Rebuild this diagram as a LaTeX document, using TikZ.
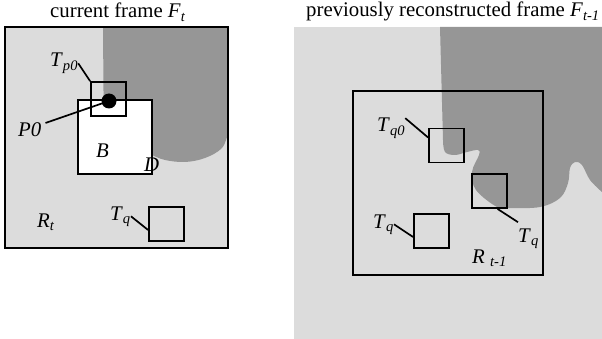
\documentclass[tikz,border=0pt]{standalone}
\usepackage{fontspec}
\setmainfont{Liberation Serif}
\definecolor{lightbg}{gray}{0.863}
\definecolor{darkbg}{gray}{0.59}
\begin{document}
\begin{tikzpicture}[x=1pt,y=-1pt,
  box/.style={draw=black, line width=1.8pt, inner sep=0pt,
              minimum width=35pt, minimum height=34pt},
  lbl/.style={inner sep=0pt, anchor=base west, font=\fontsize{20.8}{24}\selectfont},
  wire/.style={line width=1.7pt}]
\useasboundingbox (0,0) rectangle (602,339);

% ---- current frame ----
\node[lbl] (titleA) at (50,18) {current frame \textit{F}\textsubscript{\textit{t}}};
\fill[lightbg] (5,27) rectangle (228,248);
\fill[darkbg] (103,27) -- (228,27) -- (228,133)
  -- plot[smooth, tension=0.6] coordinates {(228,133) (222,148) (205,158) (185,162) (165,160) (152,155)}
  -- (104,155) -- cycle;
\node[draw, line width=1.8pt, inner sep=0pt, minimum width=223pt, minimum height=221pt] (Rt) at (116.5,137.5) {};
\node[box, fill=white, minimum width=74pt, minimum height=74pt] (B) at (115,137) {};
\node[box] (Tp0) at (108.5,99) {};
\node[circle, fill=black, inner sep=0pt, minimum size=15pt] (P0) at (109,101) {};
\node[box] (TqA) at (166.5,224) {};

\node[lbl] (Tp0lab) at (50,67) {\textit{T}\textsubscript{\textit{p0}}};
\node[lbl] (P0lab) at (18,137) {\textit{P0}};
\node[lbl] (Blab) at (96,158) {\textit{B}};
\node[lbl] (Dlab) at (144,172) {\textit{D}};
\node[lbl] (Rtlab) at (37,227) {\textit{R}\textsubscript{\textit{t}}};
\node[lbl] (TqAlab) at (110,220) {\textit{T}\textsubscript{\textit{q}}};

\draw[wire] (Tp0lab.east) -- (Tp0.north west);
\draw[wire] ([xshift=4pt]P0lab.north east) -- (P0.center);
\draw[wire] (TqAlab.east) -- ([yshift=-6pt]TqA.west);

% ---- previously reconstructed frame ----
\node[lbl] (titleB) at (306,17) {previously reconstructed frame \textit{F}\textsubscript{\textit{t-1}}};
\fill[lightbg] (294,27) rectangle (602,339);
\fill[darkbg] (440,27) -- (602,27) -- (602,192)
  -- plot[smooth, tension=0.6] coordinates {(602,192) (590,180) (582,165) (575,162) (570,168) (568,183)
     (560,198) (540,207) (510,208) (497,207) (476,190) (472,172) (479,155) (478,150) (467,152)
     (455,155) (445,152) (443,140)}
  -- cycle;
\node[draw, line width=1.8pt, inner sep=0pt, minimum width=190pt, minimum height=184pt] (Rt1) at (448,183) {};
\node[box] (Tq0) at (446.5,145.5) {};
\node[box] (TqR) at (489.5,191) {};
\node[box] (TqL) at (431.5,231) {};

\node[lbl] (Tq0lab) at (377,132) {\textit{T}\textsubscript{\textit{q0}}};
\node[lbl] (TqLlab) at (373,228) {\textit{T}\textsubscript{\textit{q}}};
\node[lbl] (TqRlab) at (518,242) {\textit{T}\textsubscript{\textit{q}}};
\node[lbl] (Rt1lab) at (472,263) {\textit{R} \textsubscript{\textit{t-1}}};

\draw[wire] (Tq0lab.north east) -- ([yshift=8pt]Tq0.west);
\draw[wire] (TqLlab.east) -- ([yshift=-6pt]TqL.west);
\draw[wire] ([xshift=8pt]TqR.south) -- ([yshift=6pt]TqRlab.north west);
\end{tikzpicture}
\end{document}
